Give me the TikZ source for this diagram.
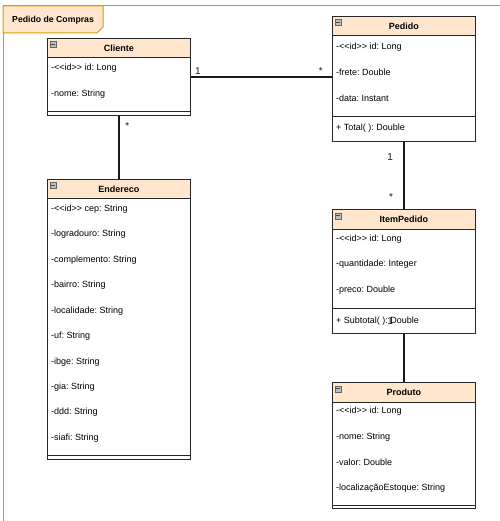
\documentclass[tikz,border=0pt]{standalone}
\usepackage{fontspec}
\setmainfont{Liberation Sans}
\usepackage{tikz}
\usetikzlibrary{arrows}
\usetikzlibrary{shapes.geometric, positioning, calc}
\usepackage{xcolor}
\frenchspacing

\definecolor{pkgorange}{RGB}{215,155,0}
\definecolor{headfill}{RGB}{255,230,204}

\begin{document}
\begin{tikzpicture}[x=1pt, y=-1pt, >=stealth, font=\fontsize{9}{11}\selectfont,
    classbox/.style={draw=black!85, line width=0.9pt, fill=white, minimum width=143pt, anchor=north west, inner sep=0pt},
    classhead/.style={draw=black!85, line width=0.9pt, fill=headfill, minimum width=143pt, minimum height=19.5pt, anchor=north west, inner sep=0pt, font=\fontsize{9}{11}\selectfont\bfseries},
    classline/.style={black!85, line width=0.9pt},
    icon/.style={draw=black!60, fill=black!25, line width=0.5pt, minimum size=6pt, inner sep=0pt, path picture={\draw[black!70, line width=0.7pt] ([xshift=1.2pt]path picture bounding box.west) -- ([xshift=-1.2pt]path picture bounding box.east);}},
    attr/.style={anchor=west, inner sep=0pt},
    assoc/.style={black!90, line width=2pt},
    mult/.style={inner sep=1pt, font=\fontsize{10}{12}\selectfont}]

    \useasboundingbox (0,0) rectangle (499,521);

    \draw[pkgorange, line width=1pt] (3,530) -- (3,6) -- (510,6);
    \draw[pkgorange, line width=1pt, fill=headfill] (3,6) -- (103,6) -- (103,27) -- (97,33) -- (3,33) -- cycle;
    \node[anchor=west, inner sep=0pt, font=\fontsize{8.7}{10}\selectfont\bfseries] (pkg) at (12,20.5) {Pedido de Compras};

    \node[classbox, minimum height=77pt] (cliente) at (47,38) {};
    \node[classhead] (cliente-h) at (47,38) {Cliente};
    \node[icon, below right=3.5pt and 3pt of cliente-h.north west] (cliente-i) {};
    \node[attr] (cliente-a1) at (51,68) {-<{}<id>{}> id: Long};
    \node[attr] (cliente-a2) at (51,94) {-nome: String};
    \draw[classline] (47,111) -- (190,111);

    \node[classbox, minimum height=125pt] (pedido) at (332,16) {};
    \node[classhead] (pedido-h) at (332,16) {Pedido};
    \node[icon, below right=3.5pt and 3pt of pedido-h.north west] (pedido-i) {};
    \node[attr] (pedido-a1) at (336,47) {-<{}<id>{}> id: Long};
    \node[attr] (pedido-a2) at (336,72) {-frete: Double};
    \node[attr] (pedido-a3) at (336,98) {-data: Instant};
    \draw[classline] (332,116) -- (475,116);
    \node[attr] (pedido-o1) at (336,128) {+ Total( ): Double};

    \node[classbox, minimum height=124pt] (itempedido) at (332,209) {};
    \node[classhead] (itempedido-h) at (332,209) {ItemPedido};
    \node[icon, below right=3.5pt and 3pt of itempedido-h.north west] (itempedido-i) {};
    \node[attr] (itempedido-a1) at (336,239) {-<{}<id>{}> id: Long};
    \node[attr] (itempedido-a2) at (336,264) {-quantidade: Integer};
    \node[attr] (itempedido-a3) at (336,290) {-preco: Double};
    \draw[classline] (332,308) -- (475,308);
    \node[attr] (itempedido-o1) at (336,321) {+ Subtotal( ): Double};

    \node[classbox, minimum height=126pt] (produto) at (332,382) {};
    \node[classhead] (produto-h) at (332,382) {Produto};
    \node[icon, below right=3.5pt and 3pt of produto-h.north west] (produto-i) {};
    \node[attr] (produto-a1) at (336,411) {-<{}<id>{}> id: Long};
    \node[attr] (produto-a2) at (336,437) {-nome: String};
    \node[attr] (produto-a3) at (336,462) {-valor: Double};
    \node[attr] (produto-a4) at (336,488) {-localizaçãoEstoque: String};
    \draw[classline] (332,505) -- (475,505);

    \node[classbox, minimum height=280pt] (endereco) at (47,179) {};
    \node[classhead] (endereco-h) at (47,179) {Endereco};
    \node[icon, below right=3.5pt and 3pt of endereco-h.north west] (endereco-i) {};
    \node[attr] (endereco-a1) at (51,209) {-<{}<id>{}> cep: String};
    \node[attr] (endereco-a2) at (51,234) {-logradouro: String};
    \node[attr] (endereco-a3) at (51,260) {-complemento: String};
    \node[attr] (endereco-a4) at (51,285) {-bairro: String};
    \node[attr] (endereco-a5) at (51,311) {-localidade: String};
    \node[attr] (endereco-a6) at (51,336) {-uf: String};
    \node[attr] (endereco-a7) at (51,362) {-ibge: String};
    \node[attr] (endereco-a8) at (51,387) {-gia: String};
    \node[attr] (endereco-a9) at (51,412) {-ddd: String};
    \node[attr] (endereco-a10) at (51,438) {-siafi: String};
    \draw[classline] (47,455) -- (190,455);

    \draw[assoc] (cliente.east) -- node[mult, pos=0.05, above] (cp-1) {1} node[mult, pos=0.92, above] (cp-n) {*} (cliente.east -| pedido.west);

    \draw[assoc] (pedido.south) -- node[mult, pos=0.22, left=9pt] (pi-1) {1} node[mult, pos=0.82, left=9pt] (pi-n) {*} (itempedido.north);

    \draw[assoc] (itempedido.south) -- node[mult, pos=0, above left=7pt and 9pt] (ip-1) {1} (produto.north);

    \draw[assoc] (cliente.south) -- node[mult, pos=0.16, right=4.5pt] (ce-n) {*} (endereco.north);
\end{tikzpicture}
\end{document}
